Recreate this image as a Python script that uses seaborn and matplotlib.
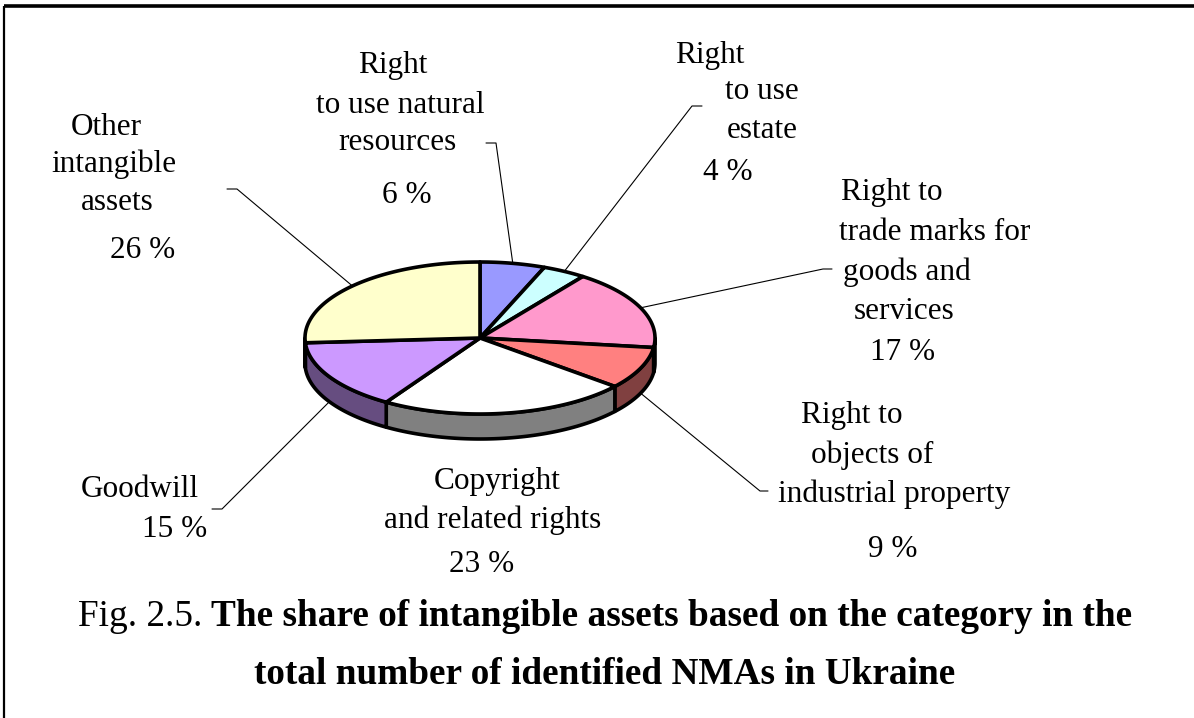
import numpy as np
import matplotlib.pyplot as plt
from matplotlib.patches import Polygon
import seaborn as sns

# data
categories = ["Right to use natural resources", "Right to use estate",
              "Right to trade marks for goods and services",
              "Right to objects of industrial property",
              "Copyright and related rights", "Goodwill",
              "Other intangible assets"]
shares = [6, 4, 17, 9, 23, 15, 26]
colors = ["#9999FF", "#CCFFFF", "#FF99CC", "#FF8080", "#FFFFFF", "#CC99FF", "#FFFFCC"]

label_lines = [
    ["Right", "to use natural", "resources"],
    ["Right", "to use", "estate"],
    ["Right to", "trade marks for", "goods and", "services"],
    ["Right to", "objects of", "industrial property"],
    ["Copyright", "and related rights"],
    ["Goodwill"],
    ["Other", "intangible", "assets"],
]

# layout (pixel coordinates): x centre / baseline of each text line, percent line
line_pos = [
    [(393, 73), (400, 113), (397, 150)],
    [(710, 63), (762, 99), (762, 138)],
    [(892, 200), (935, 240), (907, 280), (904, 319)],
    [(852, 423), (872, 463), (894, 502)],
    [(497, 489), (493, 528)],
    [(140, 497)],
    [(106, 135), (114, 172), (117, 210)],
]
pct_pos = [(407, 203), (728, 180), (903, 360), (893, 557), (482, 572), (175, 537), (143, 258)]
# leader lines: knee point and tick end (None = no leader)
leaders = [((496, 143), (486, 143)), ((692, 106), (702, 106)), ((823, 269), (832, 269)),
           ((760, 491), (768, 491)), None, ((222, 509), (212, 509)), ((237, 189), (227, 189))]

sns.set_theme(style="white")
plt.rcParams['font.family'] = ['Liberation Serif', 'DejaVu Serif']
plt.rcParams['text.color'] = 'black'

fig = plt.figure(figsize=(11.94, 7.18), dpi=100)
ax = fig.add_axes([0, 0, 1, 1])
ax.set_xlim(0, 1194)
ax.set_ylim(718, 0)
ax.axis('off')

# frame
ax.plot([4, 1194], [6, 6], color='black', lw=2.6, solid_capstyle='butt')
ax.plot([4, 4], [6, 718], color='black', lw=1.6, solid_capstyle='butt')

cx, cy, rx, ry, depth = 480, 338, 175, 76, 25


def pt(theta_deg):
    t = np.radians(theta_deg)
    return cx + rx * np.sin(t), cy - ry * np.cos(t)


def darker(hexcol):
    rgb = np.array([int(hexcol[i:i + 2], 16) for i in (1, 3, 5)]) / 255.0
    return tuple(rgb * 0.5)


bounds = np.concatenate([[0], np.cumsum(shares)]) / np.sum(shares) * 360.0

# side walls (front half only)
for i in range(len(shares)):
    a, b = max(bounds[i], 90), min(bounds[i + 1], 270)
    if b <= a:
        continue
    th = np.linspace(a, b, 80)
    xs, ys = pt(th)
    poly = np.column_stack([np.concatenate([xs, xs[::-1]]),
                            np.concatenate([ys, ys[::-1] + depth])])
    ax.add_patch(Polygon(poly, closed=True, facecolor=darker(colors[i]),
                         edgecolor='black', lw=2.6, joinstyle='round'))

# top faces
for i in range(len(shares)):
    th = np.linspace(bounds[i], bounds[i + 1], 120)
    xs, ys = pt(th)
    poly = np.column_stack([np.concatenate([[cx], xs]), np.concatenate([[cy], ys])])
    ax.add_patch(Polygon(poly, closed=True, facecolor=colors[i],
                         edgecolor='black', lw=2.6, joinstyle='round'))

# labels and leaders
fs = 22.5
for i in range(len(shares)):
    for txt, (x, y) in zip(label_lines[i], line_pos[i]):
        ax.text(x, y, txt, ha='center', va='baseline', fontsize=fs)
    ax.text(pct_pos[i][0], pct_pos[i][1], f"{shares[i]} %", ha='center',
            va='baseline', fontsize=fs)
    if leaders[i] is None:
        continue
    mid = (bounds[i] + bounds[i + 1]) / 2
    px, py = pt(mid)
    if np.cos(np.radians(mid)) < 0:
        py += depth
    (kx, ky), (ex, ey) = leaders[i]
    ax.plot([px, kx, ex], [py, ky, ey], color='black', lw=0.8)

# caption
tfs = 26.8
r = fig.canvas.get_renderer()
inv = ax.transData.inverted()


def width_of(t):
    bb = t.get_window_extent(renderer=r)
    (x0, _), (x1, _) = inv.transform([[bb.x0, bb.y0], [bb.x1, bb.y1]])
    return x1 - x0


t1 = ax.text(0, 626, "Fig. 2.5.", ha='left', va='baseline', fontsize=tfs)
t2 = ax.text(0, 626, "The share of intangible assets based on the category in the",
             ha='left', va='baseline', fontsize=tfs, fontweight='bold')
gap = tfs / 72 * 100 * 0.25
w1, w2 = width_of(t1), width_of(t2)
start = 605 - (w1 + gap + w2) / 2
t1.set_x(start)
t2.set_x(start + w1 + gap)
ax.text(605, 684, "total number of identified NMAs in Ukraine", ha='center',
        va='baseline', fontsize=tfs, fontweight='bold')

fig.savefig("out.png", dpi=100)
